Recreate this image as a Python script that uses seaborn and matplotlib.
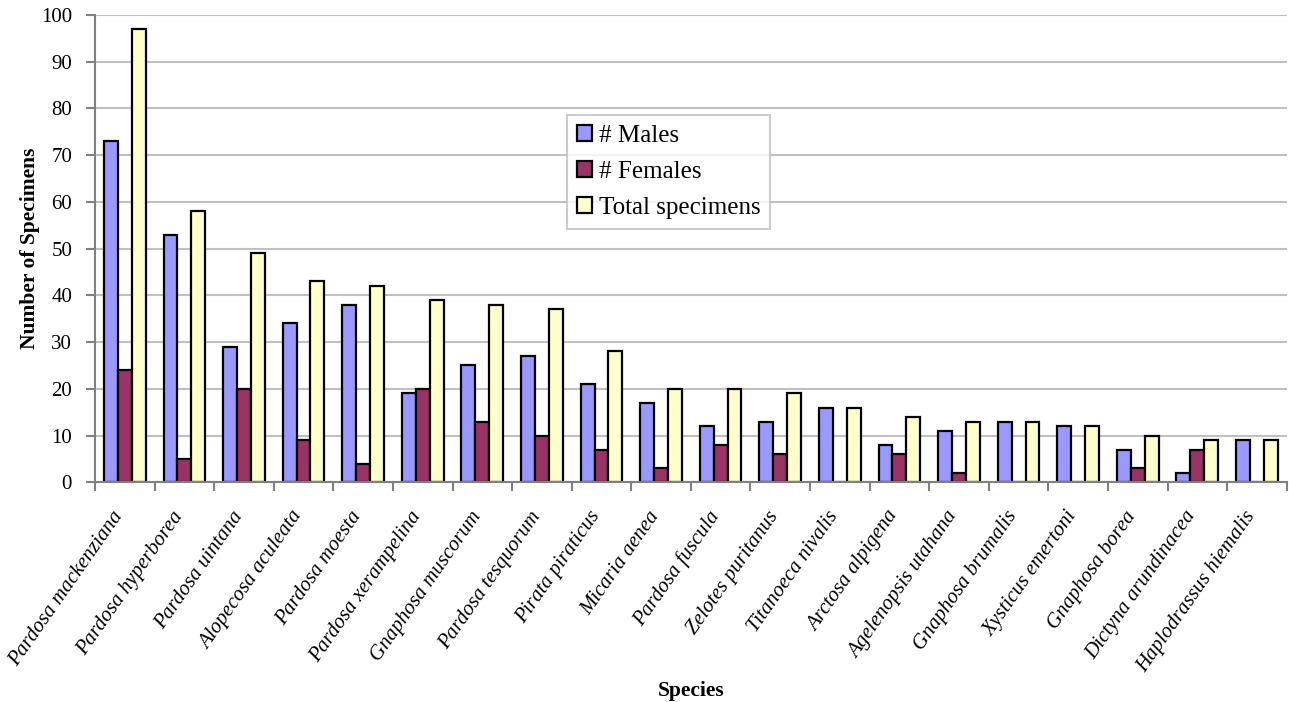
import matplotlib
matplotlib.use("Agg")
import matplotlib.pyplot as plt
import matplotlib.transforms as mtransforms
import seaborn as sns
import pandas as pd
import numpy as np

species = [
    "Pardosa mackenziana", "Pardosa hyperborea", "Pardosa uintana",
    "Alopecosa aculeata", "Pardosa moesta", "Pardosa xerampelina",
    "Gnaphosa muscorum", "Pardosa tesquorum", "Pirata piraticus",
    "Micaria aenea", "Pardosa fuscula", "Zelotes puritanus",
    "Titanoeca nivalis", "Arctosa alpigena", "Agelenopsis utahana",
    "Gnaphosa brumalis", "Xysticus emertoni", "Gnaphosa borea",
    "Dictyna arundinacea", "Haplodrassus hiemalis",
]
males = [73, 53, 29, 34, 38, 19, 25, 27, 21, 17, 12, 13, 16, 8, 11, 13, 12, 7, 2, 9]
females = [24, 5, 20, 9, 4, 20, 13, 10, 7, 3, 8, 6, 0, 6, 2, 0, 0, 3, 7, 0]
totals = [97, 58, 49, 43, 42, 39, 38, 37, 28, 20, 20, 19, 16, 14, 13, 13, 12, 10, 9, 9]
series_names = ["# Males", "# Females", "Total specimens"]
colors = ["#9999FF", "#993366", "#FFFFCC"]

df = pd.DataFrame({
    "Species": species * 3,
    "Count": males + females + totals,
    "Series": [series_names[0]] * len(species)
              + [series_names[1]] * len(species)
              + [series_names[2]] * len(species),
})

sns.set_style("white")
plt.rcParams["font.family"] = ["Liberation Serif", "DejaVu Serif"]
plt.rcParams["text.color"] = "black"
plt.rcParams["axes.labelcolor"] = "black"

fig = plt.figure(figsize=(12.89, 7.02), dpi=100)
ax = fig.add_axes([0.0737, 0.313, 0.9245, 0.6656])

sns.barplot(data=df, x="Species", y="Count", hue="Series", order=species,
            hue_order=series_names, palette=colors, width=0.7,
            edgecolor="black", linewidth=1.6, saturation=1, ax=ax,
            legend=True)

ax.set_ylim(0, 100)
ax.set_xlim(-0.5, len(species) - 0.5)
ax.set_yticks(np.arange(0, 101, 10))
ax.yaxis.grid(True, color="#C0C0C0", linewidth=1.5)
ax.set_axisbelow(True)
for side in ["top", "right"]:
    ax.spines[side].set_visible(False)
for side in ["left", "bottom"]:
    ax.spines[side].set_color("#808080")
    ax.spines[side].set_linewidth(1.5)

ax.tick_params(axis="y", which="major", length=6.5, width=1.5, color="#808080",
               direction="out", labelsize=15, left=True, pad=10,
               labelcolor="black")
ax.set_xticks(np.arange(len(species)))
ax.set_xticklabels(species, rotation=55, ha="right", va="center",
                   rotation_mode="anchor", fontstyle="italic", fontsize=15)
ax.tick_params(axis="x", which="major", length=0, pad=22, labelcolor="black")
shift = mtransforms.ScaledTranslation(-5 / 100, 0, fig.dpi_scale_trans)
for lbl in ax.get_xticklabels():
    lbl.set_transform(lbl.get_transform() + shift)
ax.set_xticks(np.arange(len(species) + 1) - 0.5, minor=True)
ax.tick_params(axis="x", which="minor", length=6.5, width=1.5, color="#808080",
               direction="out", bottom=True)

ax.set_xlabel("Species", fontsize=15.5, fontweight="bold", labelpad=4,
              color="black")
ax.set_ylabel("Number of Specimens", fontsize=15.5, fontweight="bold",
              labelpad=1, color="black")

leg = ax.legend(loc="upper left", bbox_to_anchor=(0.396, 0.786), fontsize=18,
                frameon=True, fancybox=False, edgecolor="#C0C0C0",
                handlelength=0.62, handleheight=0.62, handletextpad=0.25,
                borderpad=0.4, labelspacing=0.55, borderaxespad=0, title=None)
leg.get_frame().set_linewidth(1.5)
for txt in leg.get_texts():
    txt.set_color("black")

fig.savefig("out.png", dpi=100)
